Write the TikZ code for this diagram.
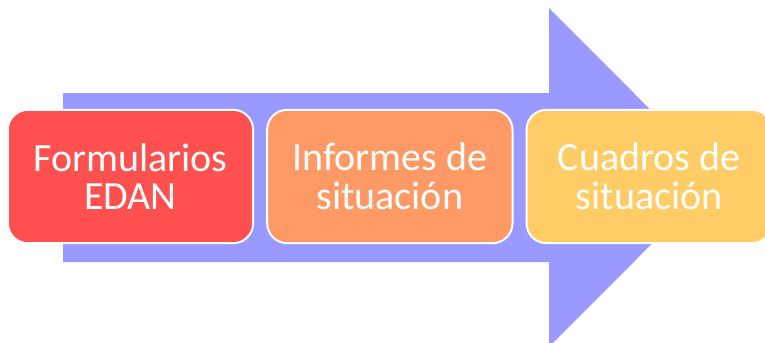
\documentclass[tikz,border=0pt]{standalone}
\usepackage{fontspec}
\setmainfont{Carlito}
\usetikzlibrary{positioning}
\definecolor{flecha}{HTML}{9999FF}
\definecolor{rojo}{HTML}{FF5050}
\definecolor{naranja}{HTML}{FF9966}
\definecolor{amarillo}{HTML}{FFCC66}
\tikzset{caja/.style={draw=white,line width=1.5pt,rounded corners=15pt,minimum width=184pt,minimum height=100pt,align=center,text=white,inner sep=0pt,font=\fontsize{30}{29}\selectfont}}

\begin{document}
\begin{tikzpicture}[x=0.75pt,y=-0.75pt]
        \useasboundingbox (0,0) rectangle (765,343);
        \fill[flecha] (63,93) -- (549,93) -- (549,8) -- (718,177.5) -- (549,347) -- (549,262) -- (63,262) -- cycle;
        \node[caja,fill=rojo] (formularios) at (130.5,176.5) {Formularios\\EDAN};
        \node[caja,fill=naranja,right=9pt of formularios] (informes) {Informes de\\situación};
        \node[caja,fill=amarillo,right=9pt of informes] (cuadros) {Cuadros de\\situación};
    \end{tikzpicture}
\end{document}
